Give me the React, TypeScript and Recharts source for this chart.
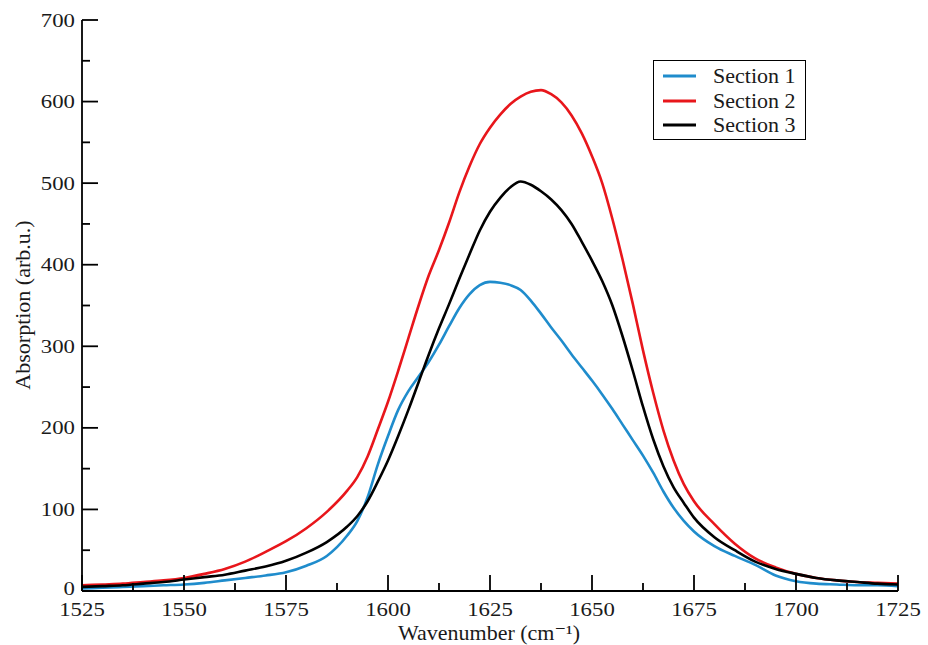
import React from 'react';
import { LineChart, Line, XAxis, YAxis, Legend } from 'recharts';

const wavenumber = [
  1525, 1530, 1535, 1540, 1545, 1550, 1555, 1560, 1565, 1570, 1575, 1580, 1585, 1590,
  1592.5, 1595, 1597.5, 1600, 1602.5, 1605, 1607.5, 1610, 1612.5, 1615, 1617.5, 1620,
  1622.5, 1625, 1627.5, 1630, 1632.5, 1635, 1637.5, 1640, 1642.5, 1645, 1647.5, 1650,
  1652.5, 1655, 1657.5, 1660, 1662.5, 1665, 1667.5, 1670, 1672.5, 1675,
  1680, 1685, 1690, 1695, 1700, 1705, 1710, 1715, 1720, 1725,
];

const section1 = [
  3, 4, 5, 6, 7, 8, 10, 13, 16, 19, 23, 31, 43, 68,
  86, 115, 155, 190, 222, 245, 263, 281, 302, 325, 347, 364,
  375, 379, 378, 375, 369, 356, 340, 323, 307, 290, 274, 258,
  241, 223, 204, 185, 166, 145, 122, 102, 86, 73,
  55, 43, 32, 19, 12, 9, 8, 7, 7, 6,
];

const section2 = [
  7, 8, 9, 11, 13, 16, 21, 27, 36, 48, 61, 77, 97, 123,
  140, 165, 198, 232, 270, 310, 350, 387, 418, 452, 489, 521,
  548, 568, 584, 597, 606, 612, 614, 609, 599, 583, 561, 533,
  500, 456, 406, 352, 295, 243, 197, 160, 131, 110,
  82, 58, 40, 29, 21, 16, 13, 11, 10, 9,
];

const section3 = [
  5, 6, 7, 9, 11, 14, 17, 20, 25, 30, 37, 47, 60, 79,
  92, 110, 134, 160, 190, 222, 256, 290, 322, 352, 383, 413,
  442, 465, 482, 495, 502, 498, 490, 480, 467, 450, 428, 405,
  380, 350, 312, 270, 226, 186, 153, 127, 108, 90,
  66, 50, 36, 27, 21, 16, 13, 11, 9, 8,
];

const seriesNames = ['Section 1', 'Section 2', 'Section 3'];
const seriesKeys = ['s1', 's2', 's3'];
const seriesColors = ['#1f8ccc', '#e8161b', '#000000'];

const xMajorTicks = [1525, 1550, 1575, 1600, 1625, 1650, 1675, 1700, 1725];
const xMinorTicks = [1537.5, 1562.5, 1587.5, 1612.5, 1637.5, 1662.5, 1687.5, 1712.5];
const yMajorTicks = [0, 100, 200, 300, 400, 500, 600, 700];
const yMinorTicks = [50, 150, 250, 350, 450, 550, 650];

const xTitle = 'Wavenumber (cm\u207B\u00B9)';
const yTitle = 'Absorption (arb.u.)';

const data = wavenumber.map((w, i) => ({
  w,
  s1: section1[i],
  s2: section2[i],
  s3: section3[i],
}));

const xTicks = [...xMajorTicks, ...xMinorTicks].sort((a, b) => a - b);
const yTicks = [...yMajorTicks, ...yMinorTicks].sort((a, b) => a - b);

const FONT = "'Liberation Serif', 'Times New Roman', Times, 'DejaVu Serif', serif";
const TEXT = '#1a1a1a';
const MAJOR = 16;
const MINOR = 8;
const SW = 1.8;
const TICK_FS = 19;
const TICK_SX = 1.2;
const textStyle = { fontFamily: FONT, fill: TEXT } as React.CSSProperties;

const isXMajor = (v: number) => xMajorTicks.includes(v);
const isYMajor = (v: number) => yMajorTicks.includes(v);

const BottomTick = (props: any) => {
  const { x, y, payload } = props;
  const major = isXMajor(payload.value);
  return (
    <g>
      <line x1={x} x2={x} y1={y} y2={y - (major ? MAJOR : MINOR)} stroke="#000" strokeWidth={SW} />
      {major && (
        <text
          x={0}
          y={0}
          transform={`translate(${x},${y + 25}) scale(${TICK_SX},1)`}
          textAnchor="middle"
          fontSize={TICK_FS}
          style={textStyle}
        >
          {payload.value}
        </text>
      )}
    </g>
  );
};

const TopTick = (props: any) => {
  const { x, y, payload } = props;
  const major = isXMajor(payload.value);
  return (
    <line x1={x} x2={x} y1={y} y2={y + (major ? MAJOR : MINOR)} stroke="#000" strokeWidth={SW} />
  );
};

const LeftTick = (props: any) => {
  const { x, y, payload } = props;
  const major = isYMajor(payload.value);
  const dy = payload.value === 0 ? 3.5 : 6.5;
  return (
    <g>
      <line x1={x} x2={x + (major ? MAJOR : MINOR)} y1={y} y2={y} stroke="#000" strokeWidth={SW} />
      {major && (
        <text
          x={0}
          y={0}
          transform={`translate(${x - 7},${y + dy}) scale(${TICK_SX},1)`}
          textAnchor="end"
          fontSize={TICK_FS}
          style={textStyle}
        >
          {payload.value}
        </text>
      )}
    </g>
  );
};

const RightTick = (props: any) => {
  const { x, y, payload } = props;
  const major = isYMajor(payload.value);
  return (
    <line x1={x} x2={x - (major ? MAJOR : MINOR)} y1={y} y2={y} stroke="#000" strokeWidth={SW} />
  );
};

const renderLegend = () => (
  <div
    style={{
      border: '1.5px solid #000',
      background: '#fff',
      width: 153,
      height: 80,
      boxSizing: 'border-box',
      padding: '3px 0 0 0',
      fontFamily: FONT,
      fontSize: 22,
      color: TEXT,
    }}
  >
    {seriesNames.map((name, i) => (
      <div key={name} style={{ display: 'flex', alignItems: 'center', height: 24.5 }}>
        <svg width={59} height={10} style={{ display: 'block' }}>
          <line x1={9} x2={42} y1={5} y2={5} stroke={seriesColors[i]} strokeWidth={3} />
        </svg>
        <span style={{ lineHeight: '24px' }}>{name}</span>
      </div>
    ))}
  </div>
);

export default function App() {
  return (
    <div style={{ position: 'absolute', left: 0, top: 0, width: 928, height: 645, background: '#fff' }}>
      <LineChart
        width={928}
        height={645}
        data={data}
        margin={{ top: 20, right: 30, bottom: 0, left: 0 }}
      >
        <XAxis
          xAxisId="b"
          dataKey="w"
          type="number"
          orientation="bottom"
          domain={[1525, 1725]}
          allowDataOverflow
          ticks={xTicks}
          interval={0}
          height={54}
          tickSize={0}
          tickMargin={0}
          tickLine={false}
          axisLine={{ stroke: '#000', strokeWidth: SW }}
          tick={BottomTick}
          label={{
            content: () => (
              <text x={489} y={640} textAnchor="middle" fontSize={22} style={textStyle}>
                {xTitle}
              </text>
            ),
          }}
        />
        <XAxis
          xAxisId="t"
          dataKey="w"
          type="number"
          orientation="top"
          domain={[1525, 1725]}
          allowDataOverflow
          ticks={xTicks}
          interval={0}
          height={0}
          tickSize={0}
          tickMargin={0}
          tickLine={false}
          axisLine={{ stroke: '#000', strokeWidth: SW }}
          tick={TopTick}
        />
        <YAxis
          yAxisId="l"
          type="number"
          orientation="left"
          domain={[0, 700]}
          allowDataOverflow
          ticks={yTicks}
          interval={0}
          width={82}
          tickSize={0}
          tickMargin={0}
          tickLine={false}
          axisLine={{ stroke: '#000', strokeWidth: SW }}
          tick={LeftTick}
          label={{
            content: () => (
              <text
                x={22}
                y={305}
                textAnchor="middle"
                fontSize={22}
                style={textStyle}
                transform="rotate(-90 22 305)"
                dominantBaseline="central"
              >
                {yTitle}
              </text>
            ),
          }}
        />
        <YAxis
          yAxisId="r"
          type="number"
          orientation="right"
          domain={[0, 700]}
          allowDataOverflow
          ticks={yTicks}
          interval={0}
          width={0}
          tickSize={0}
          tickMargin={0}
          tickLine={false}
          axisLine={{ stroke: '#000', strokeWidth: SW }}
          tick={RightTick}
        />
        <Legend
          layout="horizontal"
          verticalAlign="middle"
          align="center"
          content={renderLegend}
          wrapperStyle={{ position: 'absolute', left: 653, top: 60, width: 153, height: 80 }}
        />
        {seriesKeys.map((k, i) => (
          <Line
            key={k}
            xAxisId="b"
            yAxisId="l"
            dataKey={k}
            name={seriesNames[i]}
            type="monotone"
            stroke={seriesColors[i]}
            strokeWidth={2.6}
            dot={false}
            activeDot={false}
            isAnimationActive={false}
          />
        ))}
      </LineChart>
    </div>
  );
}
